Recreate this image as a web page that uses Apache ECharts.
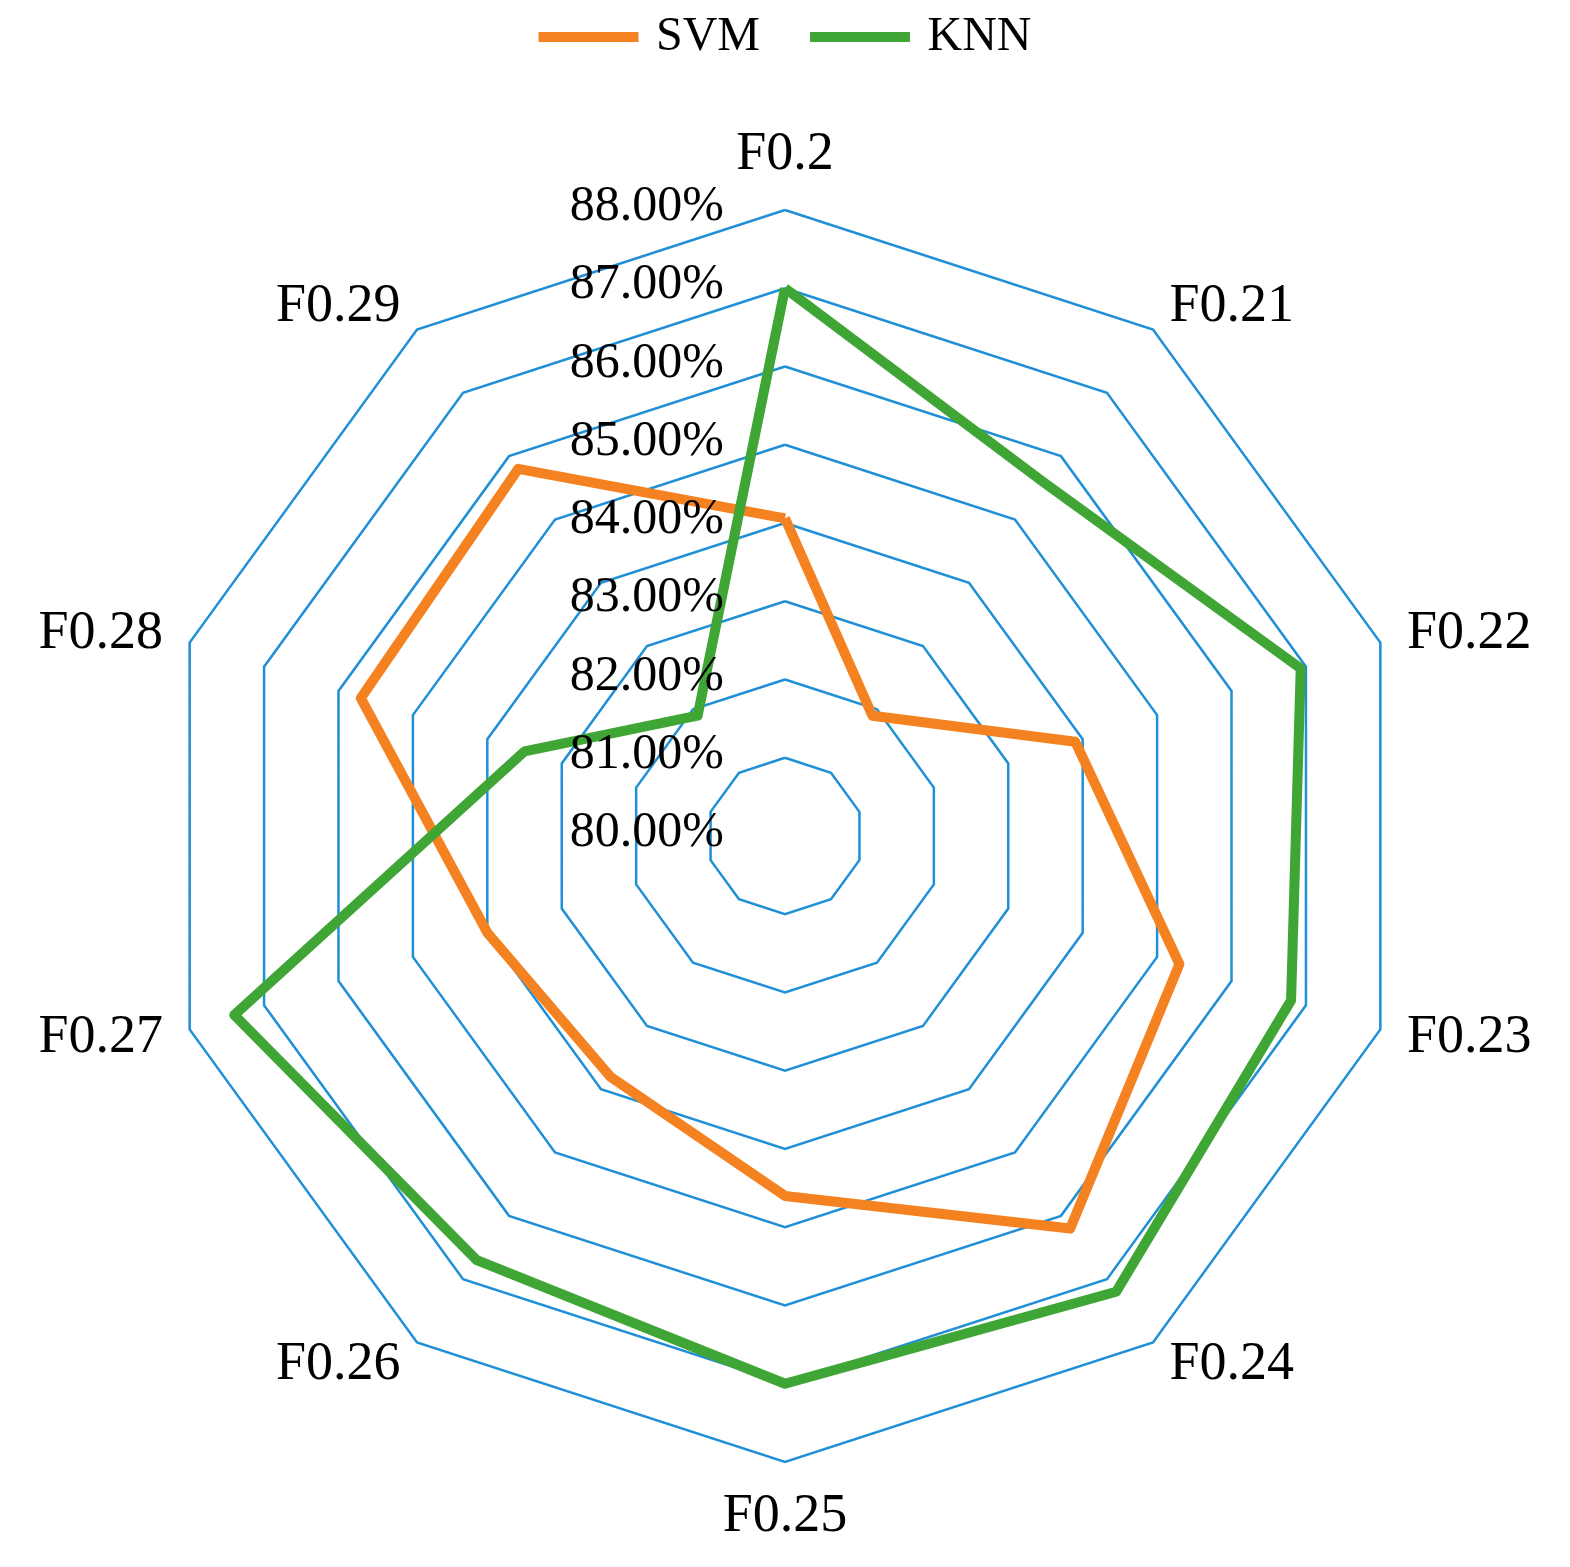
<!DOCTYPE html><html><head><meta charset="utf-8">
<script src="https://cdn.jsdelivr.net/npm/echarts@6/dist/echarts.min.js"></script>
<style>html,body{margin:0;background:#fff}#c{width:1570px;height:1567px}</style></head><body><div id="c"></div>
<script>
const categories=['F0.2','F0.21','F0.22','F0.23','F0.24','F0.25','F0.26','F0.27','F0.28','F0.29'];
const svm=[84.06,81.9,83.9,85.3,86.2,84.6,83.8,84.0,85.7,85.8];
const knn=[87.0,85.6,86.93,86.8,87.2,87.0,86.7,87.4,83.5,81.9];
const ticks=[80,81,82,83,84,85,86,87,88];
const C=[785,836],R=626,MIN=80,MAX=88;
// radar draws counterclockwise; reorder to get clockwise layout
const order=categories.map((_,i)=>(categories.length-i)%categories.length);
const re=a=>order.map(i=>a[i]);
const font='"Liberation Serif","Times New Roman",serif';
const chart=echarts.init(document.getElementById('c'));
chart.setOption({
  animation:false,
  legend:{top:8,left:'center',itemWidth:125,itemHeight:10,itemGap:50,icon:'path://M0,0H10V1H0Z',
    textStyle:{fontFamily:font,fontSize:48,color:'#000'},data:['SVM','KNN']},
  radar:{center:C,radius:R,startAngle:90,splitNumber:8,shape:'polygon',
    indicator:re(categories).map(n=>({name:n,min:MIN,max:MAX})),
    axisName:{color:'#000',fontFamily:font,fontSize:54},nameGap:28,
    splitLine:{lineStyle:{color:'#1f8fd6',width:2.5}},splitArea:{show:false},
    axisLine:{show:false},axisTick:{show:false},axisLabel:{show:false}},
  graphic:ticks.map(t=>({type:'text',right:1570-724,top:C[1]-R*(t-MIN)/(MAX-MIN)-28,
    style:{text:t.toFixed(2)+'%',font:'50px '+font,fill:'#000'},z:10})),
  series:[{type:'radar',symbol:'none',data:[
    {name:'SVM',value:re(svm),lineStyle:{color:'#f58220',width:10},itemStyle:{color:'#f58220'}},
    {name:'KNN',value:re(knn),lineStyle:{color:'#3fa535',width:10},itemStyle:{color:'#3fa535'}}]}]
});
</script></body></html>
